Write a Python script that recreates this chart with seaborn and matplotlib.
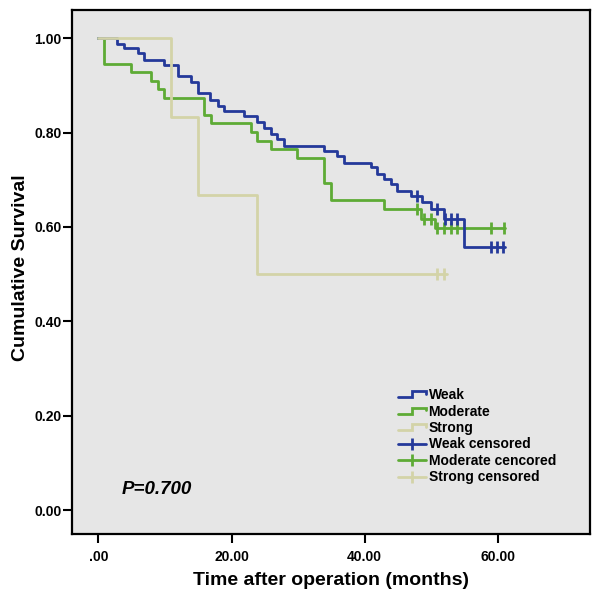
import numpy as np
import pandas as pd
import seaborn as sns
import matplotlib.pyplot as plt
from matplotlib.lines import Line2D
from matplotlib.legend_handler import HandlerLine2D

# step curves (time in months, survival after the step)
weak_t = [0, 2.8, 3.9, 5.9, 6.9, 9.9, 11.9, 13.9, 14.9, 16.8, 17.9, 18.9, 21.9, 23.9,
          24.9, 25.9, 26.9, 27.9, 33.9, 35.9, 36.9, 40.9, 41.9, 42.9, 43.9, 44.9,
          46.9, 48.6, 49.9, 51.9, 54.9, 61.0]
weak_s = [1.0, 0.987, 0.979, 0.968, 0.954, 0.942, 0.920, 0.907, 0.884, 0.869, 0.856,
          0.846, 0.834, 0.822, 0.809, 0.796, 0.786, 0.772, 0.761, 0.751, 0.736, 0.726,
          0.713, 0.701, 0.691, 0.677, 0.666, 0.652, 0.638, 0.617, 0.557, 0.557]
mod_t = [0, 0.9, 4.9, 7.9, 8.9, 9.9, 15.9, 16.9, 22.9, 23.9, 25.9, 29.9, 33.9, 34.9,
         42.9, 48.5, 50.5, 61.0]
mod_s = [1.0, 0.946, 0.928, 0.909, 0.892, 0.874, 0.838, 0.820, 0.801, 0.782, 0.765,
         0.747, 0.694, 0.657, 0.638, 0.617, 0.597, 0.597]
strong_t = [0, 10.9, 14.9, 23.9, 52.4]
strong_s = [1.0, 0.833, 0.667, 0.5, 0.5]

# censored marks
weak_ct = [47.9, 50.9, 52.0, 52.9, 53.9, 58.9, 59.8, 60.8]
weak_cs = [0.666, 0.638, 0.617, 0.617, 0.617, 0.557, 0.557, 0.557]
mod_ct = [47.9, 48.9, 49.9, 50.9, 51.9, 52.9, 53.9, 58.9, 60.9]
mod_cs = [0.638, 0.617, 0.617, 0.597, 0.597, 0.597, 0.597, 0.597, 0.597]
strong_ct = [50.9, 51.9]
strong_cs = [0.5, 0.5]

groups = ["Weak", "Moderate", "Strong"]
colors = ["#24399a", "#5eab35", "#d3d3a8"]
xticks = [0, 20, 40, 60]
xticklabels = [".00", "20.00", "40.00", "60.00"]
yticks = [0, 0.2, 0.4, 0.6, 0.8, 1.0]
yticklabels = ["0.00", "0.20", "0.40", "0.60", "0.80", "1.00"]

curves = pd.concat([
    pd.DataFrame({"t": weak_t, "s": weak_s, "g": "Weak"}),
    pd.DataFrame({"t": mod_t, "s": mod_s, "g": "Moderate"}),
    pd.DataFrame({"t": strong_t, "s": strong_s, "g": "Strong"}),
])
cens = pd.concat([
    pd.DataFrame({"t": weak_ct, "s": weak_cs, "g": "Weak"}),
    pd.DataFrame({"t": mod_ct, "s": mod_cs, "g": "Moderate"}),
    pd.DataFrame({"t": strong_ct, "s": strong_cs, "g": "Strong"}),
])

sns.set_style("white", {"axes.facecolor": "#e6e6e6", "text.color": "black",
                        "axes.labelcolor": "black", "xtick.color": "black",
                        "ytick.color": "black"})
plt.rcParams["font.family"] = ["Liberation Sans", "DejaVu Sans"]
plt.rcParams["font.weight"] = "bold"

fig = plt.figure(figsize=(6, 5.99), dpi=100)
ax = fig.add_axes([0.1195, 0.1085, 0.8635, 0.8745])

pal = dict(zip(groups, colors))
# strong drawn last, it covers the others at the top left like in the original
for g in ["Moderate", "Weak", "Strong"]:
    d = curves[curves.g == g]
    sns.lineplot(data=d, x="t", y="s", color=pal[g], lw=2.0, drawstyle="steps-post",
                 estimator=None, sort=False, ax=ax, legend=False)
    c = cens[cens.g == g]
    ax.plot(c.t, c.s, ls="none", marker="|", ms=8, mew=2, color=pal[g])

ax.set_xlim(-4.0, 73.8)
ax.set_ylim(-0.050, 1.059)
ax.set_xticks(xticks)
ax.set_xticklabels(xticklabels)
ax.set_yticks(yticks)
ax.set_yticklabels(yticklabels)
ax.tick_params(axis="both", direction="out", length=6.5, width=1.5, labelsize=10,
               bottom=True, left=True, colors="black")
ax.tick_params(axis="x", pad=5)
ax.tick_params(axis="y", pad=1)
for lab in ax.get_xticklabels() + ax.get_yticklabels():
    lab.set_fontweight("bold")
for sp in ax.spines.values():
    sp.set_linewidth(1.6)
    sp.set_color("black")

ax.set_xlabel("Time after operation (months)", fontsize=14, fontweight="bold",
              labelpad=6, color="black")
ax.set_ylabel("Cumulative Survival", fontsize=14, fontweight="bold", color="black")
ax.yaxis.set_label_coords(-0.083, 0.508)

ax.text(3.5, 0.045, "P=0.700", fontsize=13.5, fontweight="bold", style="italic",
        va="center", ha="left", color="black")


class StepHandler(HandlerLine2D):
    def create_artists(self, legend, orig_handle, xdescent, ydescent, width, height,
                       fontsize, trans):
        x0 = -xdescent
        y0 = -ydescent
        xs = [x0, x0 + width * 0.5, x0 + width * 0.5, x0 + width, x0 + width]
        ys = [y0 + height * 0.2, y0 + height * 0.2, y0 + height * 0.8,
              y0 + height * 0.8, y0 + height * 0.55]
        ln = Line2D(xs, ys, color=orig_handle.get_color(), lw=orig_handle.get_linewidth(),
                    solid_joinstyle="miter")
        ln.set_transform(trans)
        return [ln]


step_handles = [Line2D([], [], color=c, lw=2.0) for c in colors]
cens_handles = [Line2D([], [], color=c, lw=2.0, marker="|", ms=9, mew=2) for c in colors]
labels = groups + ["Weak censored", "Moderate cencored", "Strong censored"]
hmap = {h: StepHandler() for h in step_handles}
leg = fig.legend(step_handles + cens_handles, labels, loc="upper left",
                 bbox_to_anchor=(398 / 600, 1 - 388 / 599), bbox_transform=fig.transFigure,
                 frameon=False, handlelength=2.0, handletextpad=0.2,
                 labelspacing=0.18, borderpad=0, borderaxespad=0, numpoints=1,
                 handler_map=hmap, prop={"weight": "bold", "size": 10})
for txt in leg.get_texts():
    txt.set_color("black")

fig.savefig("out.png", dpi=100)
